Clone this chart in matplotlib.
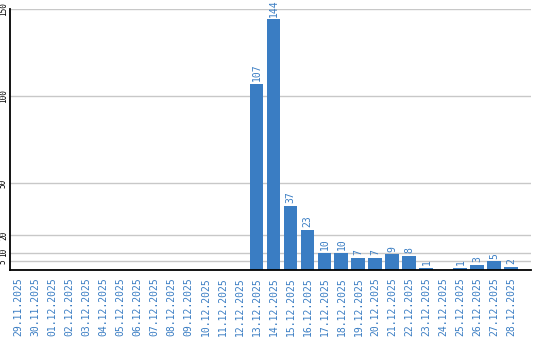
import matplotlib
matplotlib.use("Agg")
import matplotlib.pyplot as plt
import numpy as np

# ------------------------------------------------------------
# data
# ------------------------------------------------------------
dates = [
    "29.11.2025", "30.11.2025", "01.12.2025", "02.12.2025", "03.12.2025",
    "04.12.2025", "05.12.2025", "06.12.2025", "07.12.2025", "08.12.2025",
    "09.12.2025", "10.12.2025", "11.12.2025", "12.12.2025", "13.12.2025",
    "14.12.2025", "15.12.2025", "16.12.2025", "17.12.2025", "18.12.2025",
    "19.12.2025", "20.12.2025", "21.12.2025", "22.12.2025", "23.12.2025",
    "24.12.2025", "25.12.2025", "26.12.2025", "27.12.2025", "28.12.2025",
]
counts = [0, 0, 0, 0, 0, 0, 0, 0, 0, 0, 0, 0, 0, 0, 107,
          144, 37, 23, 10, 10, 7, 7, 9, 8, 1, 0, 1, 3, 5, 2]
y_ticks = [5, 10, 20, 50, 100, 150]

BLUE = "#3a7dc3"
MONO = "DejaVu Sans Mono"

fig = plt.figure(figsize=(5.4, 3.4), dpi=100)
ax = fig.add_axes([10 / 540, 70 / 340, 521 / 540, 261 / 340])

x = np.arange(len(dates))
ax.bar(x, counts, width=0.82, color=BLUE, zorder=3)

for xi, v in zip(x, counts):
    if v > 0:
        ax.annotate(str(v), (xi, v), xytext=(0, 2), textcoords="offset points",
                    rotation=90, ha="center", va="bottom",
                    fontsize=7, family=MONO, color=BLUE)

ax.set_xlim(-0.5, 30.15)
ax.set_ylim(0, 150)
ax.set_yticks(y_ticks)
ax.set_yticklabels([str(t) for t in y_ticks], rotation=90, va="center",
                   fontsize=5.6, family=MONO)
ax.set_xticks(x)
ax.set_xticklabels(dates, rotation=90, fontsize=7, family=MONO, color=BLUE)
ax.tick_params(axis="both", length=0)
ax.tick_params(axis="y", pad=1.5)
ax.tick_params(axis="x", pad=5)

ax.grid(axis="y", color="#c8c8c8", linewidth=1, zorder=0)
for side in ("top", "right"):
    ax.spines[side].set_visible(False)
for side in ("left", "bottom"):
    ax.spines[side].set_linewidth(1.3)
    ax.spines[side].set_zorder(4)

fig.savefig("out.png", dpi=100)
